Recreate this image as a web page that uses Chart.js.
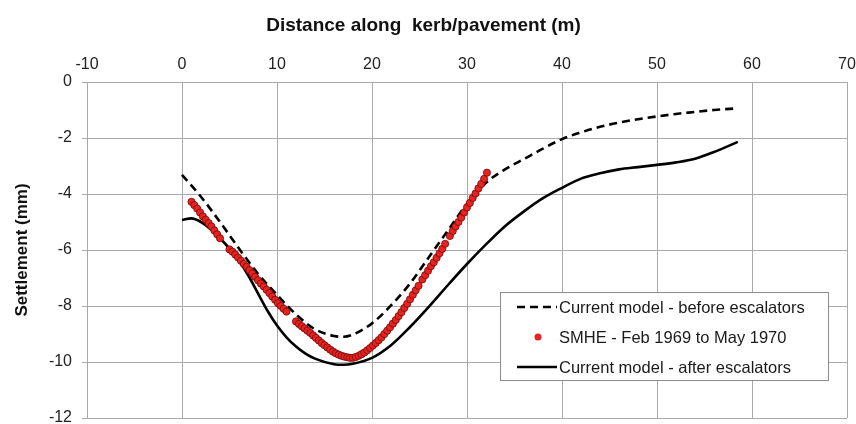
<!DOCTYPE html>
<html><head><meta charset="utf-8">
<script src="https://cdn.jsdelivr.net/npm/chart.js@4/dist/chart.umd.min.js"></script>
<style>html,body{margin:0;padding:0;background:#fff}</style>
</head><body>
<canvas id="c" width="856" height="424"></canvas>
<script>
// ---- data ----
const xTickValues = [-10, 0, 10, 20, 30, 40, 50, 60, 70];
const yTickValues = [0, -2, -4, -6, -8, -10, -12];

const seriesLabels = [
  'Current model - before escalators',
  'SMHE - Feb 1969 to May 1970',
  'Current model - after escalators'
];

const beforeX = [0, 2, 4, 6, 8, 10, 12, 14, 16, 17, 18, 20, 22, 24, 26, 28, 30, 32, 34, 36, 38, 40, 42, 44, 46, 48, 50, 52, 54, 56, 58.5];
const beforeY = [-3.32, -4.1, -5.0, -5.95, -6.85, -7.6, -8.3, -8.83, -9.07, -9.1, -9.02, -8.62, -7.98, -7.2, -6.25, -5.3, -4.35, -3.6, -3.12, -2.75, -2.38, -2.04, -1.8, -1.6, -1.45, -1.33, -1.23, -1.14, -1.07, -1.0, -0.94];

const afterX = [0, 1, 2, 3, 4, 5, 6, 7, 8, 9, 10, 11, 12, 13, 14, 16, 17, 18, 20, 22, 24, 26, 28, 30, 32, 34, 36, 38, 40, 42, 44, 46, 48, 50, 52, 54, 56, 58.5];
const afterY = [-4.93, -4.87, -5.0, -5.25, -5.58, -5.95, -6.38, -6.92, -7.55, -8.17, -8.7, -9.12, -9.45, -9.7, -9.88, -10.08, -10.1, -10.06, -9.85, -9.4, -8.75, -8.02, -7.25, -6.5, -5.8, -5.15, -4.62, -4.15, -3.78, -3.45, -3.26, -3.12, -3.04, -2.96, -2.87, -2.74, -2.5, -2.14];

const smheX = [1.0, 1.3, 1.6, 1.9, 2.2, 2.5, 2.8, 3.1, 3.4, 3.7, 4.0,
  5.0, 5.3, 5.6, 5.9, 6.2, 6.5, 6.8, 7.1, 7.4, 7.7, 8.0, 8.3, 8.6, 8.9, 9.2, 9.5, 9.8, 10.1, 10.4, 10.7, 11.0,
  12.0, 12.3, 12.6, 12.9, 13.2, 13.5, 13.8, 14.1, 14.4, 14.7, 15.0, 15.3, 15.6, 15.9, 16.2, 16.5, 16.8, 17.1, 17.4, 17.7, 18.0,
  18.3, 18.6, 18.9, 19.2, 19.5, 19.8, 20.1, 20.4, 20.7, 21.0, 21.3, 21.6, 21.9, 22.2, 22.5, 22.8, 23.1, 23.4, 23.7, 24.0,
  24.3, 24.6, 24.9, 25.3, 25.6, 25.9, 26.2, 26.5, 26.8, 27.1, 27.4, 27.7,
  28.2, 28.5, 28.8, 29.1, 29.4, 29.7, 30.0, 30.3, 30.6, 30.9, 31.2, 31.5, 31.8, 32.1];
const smheY = [-4.28, -4.4, -4.52, -4.66, -4.8, -4.92, -5.04, -5.16, -5.3, -5.44, -5.58,
  -5.98, -6.06, -6.16, -6.27, -6.38, -6.5, -6.6, -6.72, -6.84, -6.96, -7.08, -7.2, -7.3, -7.42, -7.54, -7.66, -7.78, -7.9, -8.0, -8.1, -8.2,
  -8.55, -8.64, -8.72, -8.8, -8.88, -8.96, -9.05, -9.14, -9.23, -9.32, -9.4, -9.48, -9.56, -9.63, -9.69, -9.74, -9.78, -9.81, -9.83, -9.85, -9.85,
  -9.82, -9.78, -9.72, -9.66, -9.58, -9.5, -9.41, -9.32, -9.22, -9.12, -9.0, -8.88, -8.76, -8.63, -8.5, -8.36, -8.22, -8.07, -7.92, -7.76,
  -7.6, -7.44, -7.28, -7.05, -6.9, -6.74, -6.58, -6.44, -6.28, -6.12, -5.96, -5.78,
  -5.5, -5.32, -5.16, -5.0, -4.84, -4.66, -4.48, -4.32, -4.14, -3.98, -3.8, -3.64, -3.46, -3.24];

const toPts = (xs, ys) => xs.map((x, i) => ({x, y: ys[i]}));

const FONT = "'Liberation Sans', Arial, sans-serif";
const GRID = '#a9a9a9';

const boxLegend = {
  id: 'boxLegend',
  afterDraw(chart) {
    const ctx = chart.ctx, a = chart.chartArea;
    const L = a.right - 347, T = a.top + 210, W = 328, H = 88;
    ctx.save();
    ctx.fillStyle = '#fff';
    ctx.fillRect(L, T, W, H);
    ctx.strokeStyle = '#8c8c8c';
    ctx.lineWidth = 1;
    ctx.strokeRect(L + 0.5, T + 0.5, W, H);
    ctx.font = '16.5px ' + FONT;
    ctx.textBaseline = 'middle';
    ctx.textAlign = 'left';
    chart.data.datasets.forEach((ds, i) => {
      const y = T + 15 + i * 30;
      if (ds.showLine === false) {
        ctx.beginPath();
        ctx.fillStyle = ds.backgroundColor;
        ctx.arc(L + 38, y, 3.5, 0, Math.PI * 2);
        ctx.fill();
      } else {
        ctx.beginPath();
        ctx.setLineDash(ds.borderDash || []);
        ctx.strokeStyle = ds.borderColor;
        ctx.lineWidth = ds.borderWidth;
        ctx.moveTo(L + 17, y);
        ctx.lineTo(L + 57, y);
        ctx.stroke();
        ctx.setLineDash([]);
      }
      ctx.fillStyle = '#1a1a1a';
      ctx.fillText(ds.label, L + 59, y + 1);
    });
    ctx.restore();
  }
};

new Chart(document.getElementById('c'), {
  type: 'scatter',
  data: {
    datasets: [
      {label: seriesLabels[0], data: toPts(beforeX, beforeY), showLine: true, borderColor: '#000', borderWidth: 2.6,
       borderDash: [8, 5], pointRadius: 0, cubicInterpolationMode: 'monotone', order: 2},
      {label: seriesLabels[1], data: toPts(smheX, smheY), showLine: false, backgroundColor: '#e8231f',
       borderColor: '#6e0b0b', borderWidth: 0.8, pointRadius: 3.6, order: 1},
      {label: seriesLabels[2], data: toPts(afterX, afterY), showLine: true, borderColor: '#000', borderWidth: 2.6,
       pointRadius: 0, cubicInterpolationMode: 'monotone', order: 3}
    ]
  },
  options: {
    responsive: false,
    animation: false,
    layout: {padding: {left: 0, right: 9, top: 0, bottom: 6}},
    plugins: {
      legend: {display: false},
      tooltip: {enabled: false},
      title: {display: true, text: 'Distance along  kerb/pavement (m)', color: '#111',
        font: {family: FONT, size: 19, weight: 'bold'}, padding: {top: 14, bottom: 3}}
    },
    scales: {
      x: {
        type: 'linear', position: 'top', min: -10, max: 70,
        afterBuildTicks: s => { s.ticks = xTickValues.map(v => ({value: v})); },
        afterFit: s => { s.height = 42.2; s.paddingLeft = 0; s.paddingRight = 0; },
        grid: {color: GRID, lineWidth: 1, drawTicks: false},
        border: {color: GRID},
        ticks: {color: '#222', padding: 8, font: {family: FONT, size: 16}}
      },
      y: {
        type: 'linear', min: -12, max: 0,
        afterBuildTicks: s => { s.ticks = yTickValues.map(v => ({value: v})); },
        afterFit: s => { s.width = 87; s.paddingTop = 0; s.paddingBottom = 0; },
        grid: {color: GRID, lineWidth: 1, tickLength: 5},
        border: {color: GRID},
        title: {display: true, text: 'Settlement (mm)', color: '#111',
          font: {family: FONT, size: 17, weight: 'bold'}, padding: {top: 12, bottom: 0}},
        ticks: {color: '#222', padding: 10, font: {family: FONT, size: 16}}
      }
    }
  },
  plugins: [boxLegend]
});
</script>
</body></html>
